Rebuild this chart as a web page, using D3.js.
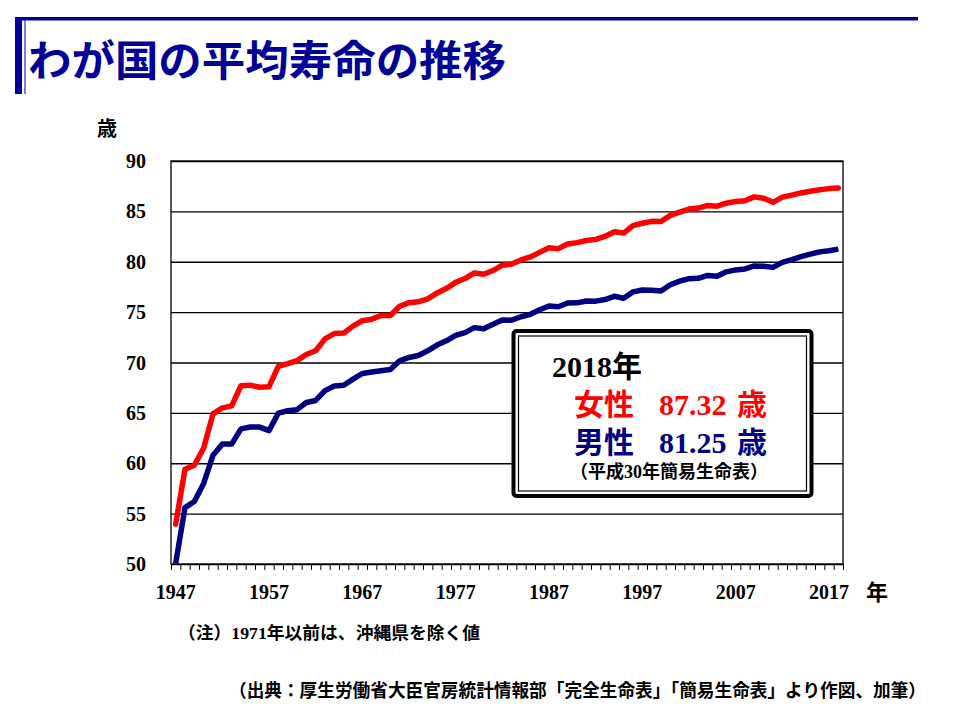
<!DOCTYPE html>
<html><head><meta charset="utf-8">
<script src="https://cdn.jsdelivr.net/npm/d3@7"></script>
<style>
html,body{margin:0;padding:0;background:#fff;}
svg{display:block;}
.jp{font-family:"Noto Sans CJK JP","Noto Sans",sans-serif;font-weight:700;}
.num{font-family:"Liberation Serif","Times New Roman",serif;font-weight:700;}
</style>
</head><body>
<script>
const years = d3.range(1947, 2019);
const female = [53.96,59.40,59.80,61.50,64.90,65.50,65.70,67.69,67.75,67.54,67.60,69.61,69.88,70.19,70.79,71.16,72.34,72.87,72.92,73.61,74.15,74.30,74.67,74.66,75.58,75.94,76.02,76.31,76.89,77.35,77.95,78.33,78.89,78.76,79.13,79.66,79.78,80.18,80.48,80.93,81.39,81.30,81.77,81.90,82.11,82.22,82.51,82.98,82.85,83.59,83.82,84.01,83.99,84.60,84.93,85.23,85.33,85.59,85.52,85.81,85.99,86.05,86.44,86.30,85.90,86.41,86.61,86.83,86.99,87.14,87.26,87.32];
const male = [50.06,55.60,56.20,58.00,60.80,61.90,61.90,63.41,63.60,63.59,63.24,64.98,65.21,65.32,66.03,66.23,67.21,67.67,67.74,68.35,68.91,69.05,69.18,69.31,70.17,70.50,70.70,71.16,71.73,72.15,72.69,72.97,73.46,73.35,73.79,74.22,74.20,74.54,74.78,75.23,75.61,75.54,75.91,75.92,76.11,76.09,76.25,76.57,76.38,77.01,77.19,77.16,77.10,77.72,78.07,78.32,78.36,78.64,78.56,79.00,79.19,79.29,79.59,79.55,79.44,79.94,80.21,80.50,80.75,80.98,81.09,81.25];
const xLabelYears = [1947,1957,1967,1977,1987,1997,2007,2017];
const yTicks = [50,55,60,65,70,75,80,85,90];

const W = 960, H = 720;
const svg = d3.select("body").append("svg").attr("width", W).attr("height", H);

// Header decoration
const navy = "#000099";
svg.append("rect").attr("x",15).attr("y",17).attr("width",903).attr("height",3.5).attr("fill",navy);
svg.append("rect").attr("x",15).attr("y",17).attr("width",7).attr("height",77).attr("fill",navy);
svg.append("rect").attr("x",24.5).attr("y",20).attr("width",1).attr("height",74).attr("fill",navy);
svg.append("text").attr("class","jp").attr("x",28).attr("y",76)
  .attr("font-size",42).attr("fill",navy).attr("textLength",478).attr("lengthAdjust","spacingAndGlyphs")
  .text("わが国の平均寿命の推移");

const L = 171, R = 843, T = 161, B = 564;
const x = d3.scaleLinear().domain([1946.5, 2018.5]).range([L, R]);
const y = d3.scaleLinear().domain([50, 90]).range([B, T]);

// gridlines
const gy = svg.append("g").attr("transform",`translate(${L},0)`)
  .call(d3.axisLeft(y).tickValues(yTicks).tickSize(-(R-L)).tickFormat(""));
gy.select(".domain").remove();
gy.selectAll("line").attr("stroke","#000").attr("stroke-width",1.3);

// plot border
svg.append("rect").attr("x",L).attr("y",T).attr("width",R-L).attr("height",B-T)
  .attr("fill","none").attr("stroke","#000").attr("stroke-width",1.3);

// y tick labels
svg.append("g").selectAll("text").data(yTicks).join("text")
  .attr("class","num").attr("x",146).attr("y",d=>y(d)).attr("dy","0.35em")
  .attr("text-anchor","end").attr("font-size",20).text(d=>d);

// x boundary ticks
const boundaries = years.map(v=>v-0.5).concat([years[years.length-1]+0.5]);
const gx = svg.append("g").attr("transform",`translate(0,${B})`)
  .call(d3.axisBottom(x).tickValues(boundaries).tickSize(6).tickFormat(""));
gx.select(".domain").remove();
gx.selectAll("line").attr("stroke","#000").attr("stroke-width",1);

// x labels
svg.append("g").selectAll("text").data(xLabelYears).join("text")
  .attr("class","num").attr("x",d=>x(d)).attr("y",599)
  .attr("text-anchor","middle").attr("font-size",20).text(d=>d);

svg.append("text").attr("class","jp").attr("x",877).attr("y",600).attr("text-anchor","middle")
  .attr("font-size",22).text("年");
svg.append("text").attr("class","jp").attr("x",107).attr("y",136).attr("text-anchor","middle")
  .attr("font-size",20).text("歳");

// lines
const line = d3.line().x((d,i)=>x(years[i])).y(d=>y(d));
svg.append("path").datum(female).attr("d",line).attr("fill","none")
  .attr("stroke","#ff0000").attr("stroke-width",5.5).attr("stroke-linejoin","round").attr("stroke-linecap","round");
svg.append("path").datum(male).attr("d",line).attr("fill","none")
  .attr("stroke","#000080").attr("stroke-width",5.5).attr("stroke-linejoin","round").attr("stroke-linecap","butt");

// annotation box
svg.append("rect").attr("x",513.5).attr("y",331).attr("width",298).attr("height",165).attr("rx",3)
  .attr("fill","#fff").attr("stroke","#000").attr("stroke-width",4);
svg.append("rect").attr("x",518.5).attr("y",336).attr("width",288).attr("height",155)
  .attr("fill","none").attr("stroke","#000").attr("stroke-width",1.2);

const t1 = svg.append("text").attr("x",552).attr("y",377).attr("font-size",30).attr("fill","#000");
t1.append("tspan").attr("class","num").text("2018");
t1.append("tspan").attr("class","jp").text("年");

const t2 = svg.append("text").attr("x",574).attr("y",415).attr("font-size",30).attr("fill","#ff0000");
t2.append("tspan").attr("class","jp").text("女性");
t2.append("tspan").attr("class","num").attr("x",659).text("87.32");
t2.append("tspan").attr("class","jp").attr("x",737).text("歳");

const t3 = svg.append("text").attr("x",574).attr("y",453).attr("font-size",30).attr("fill","#000080");
t3.append("tspan").attr("class","jp").text("男性");
t3.append("tspan").attr("class","num").attr("x",659).text("81.25");
t3.append("tspan").attr("class","jp").attr("x",737).text("歳");

const t4 = svg.append("text").attr("x",570).attr("y",478).attr("font-size",18).attr("fill","#000");
t4.append("tspan").attr("class","jp").text("（平成");
t4.append("tspan").attr("class","num").text("30");
t4.append("tspan").attr("class","jp").text("年簡易生命表）");

// notes
const n1 = svg.append("text").attr("x",178).attr("y",639).attr("font-size",17.5).attr("fill","#000")
  .attr("textLength",302).attr("lengthAdjust","spacingAndGlyphs");
n1.append("tspan").attr("class","jp").text("（注）");
n1.append("tspan").attr("class","num").text("1971");
n1.append("tspan").attr("class","jp").text("年以前は、沖縄県を除く値");

svg.append("text").attr("class","jp").attr("x",229).attr("y",697)
  .attr("font-size",18).attr("textLength",697).attr("lengthAdjust","spacingAndGlyphs")
  .text("（出典：厚生労働省大臣官房統計情報部「完全生命表」「簡易生命表」より作図、加筆）");
</script>
</body></html>
